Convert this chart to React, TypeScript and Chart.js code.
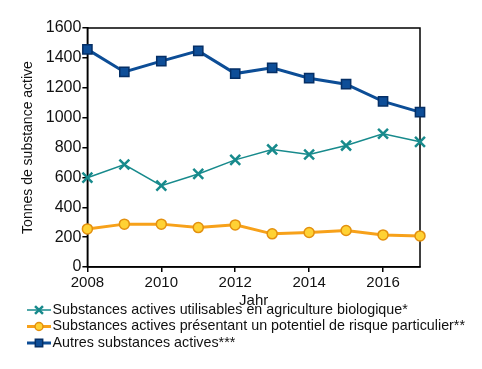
import React, { useEffect, useRef } from 'react';
import { Chart, registerables } from 'chart.js';

Chart.register(...registerables);

const years = [2008, 2009, 2010, 2011, 2012, 2013, 2014, 2015, 2016, 2017];
const bioValues = [598, 686, 545, 623, 717, 787, 753, 813, 892, 838];
const riskValues = [255, 287, 287, 264, 282, 222, 231, 244, 215, 208];
const otherValues = [1457, 1306, 1378, 1447, 1295, 1333, 1264, 1224, 1109, 1037];
const seriesLabels = [
  'Substances actives utilisables en agriculture biologique*',
  'Substances actives présentant un potentiel de risque particulier**',
  'Autres substances actives***',
];
const xTitle = 'Jahr';
const yTitle = 'Tonnes de substance active';

const FONT = '"Liberation Sans", Arial, sans-serif';

const framePlugin = {
  id: 'frame',
  beforeDatasetsDraw(chart: any) {
    const { ctx, chartArea } = chart;
    ctx.save();
    ctx.strokeStyle = '#000';
    ctx.lineWidth = 1.5;
    ctx.strokeRect(chartArea.left, chartArea.top, chartArea.right - chartArea.left, chartArea.bottom - chartArea.top);
    ctx.restore();
  },
};

function drawMarker(ctx: CanvasRenderingContext2D, style: string, x: number, y: number, ds: any) {
  ctx.save();
  ctx.fillStyle = ds.pointBackgroundColor;
  ctx.strokeStyle = ds.pointBorderColor;
  ctx.lineWidth = ds.pointBorderWidth;
  const r = ds.pointRadius;
  ctx.beginPath();
  if (style === 'circle') {
    ctx.arc(x, y, r, 0, Math.PI * 2);
    ctx.fill();
    ctx.stroke();
  } else if (style === 'rect') {
    const s = Math.SQRT1_2 * r;
    ctx.rect(x - s, y - s, 2 * s, 2 * s);
    ctx.fill();
    ctx.stroke();
  } else {
    const o = Math.cos(Math.PI / 4) * r;
    ctx.moveTo(x - o, y - o);
    ctx.lineTo(x + o, y + o);
    ctx.moveTo(x + o, y - o);
    ctx.lineTo(x - o, y + o);
    ctx.stroke();
  }
  ctx.restore();
}

const legendPlugin = {
  id: 'lineLegend',
  afterDraw(chart: any) {
    const { ctx } = chart;
    const left = 27;
    const top = 310;
    const rowH = 16.5;
    ctx.save();
    ctx.font = `14.3px ${FONT}`;
    ctx.textBaseline = 'middle';
    ctx.textAlign = 'left';
    chart.data.datasets.forEach((ds: any, i: number) => {
      const y = top + i * rowH;
      ctx.strokeStyle = ds.borderColor;
      ctx.lineWidth = ds.borderWidth;
      ctx.beginPath();
      ctx.moveTo(left, y);
      ctx.lineTo(left + 24, y);
      ctx.stroke();
      drawMarker(ctx, ds.pointStyle, left + 12, y, { ...ds, pointRadius: ds.pointRadius * 0.8 });
      ctx.fillStyle = '#111';
      ctx.fillText(ds.label, left + 25.5, y);
    });
    ctx.restore();
  },
};

export default function App() {
  const ref = useRef<HTMLCanvasElement | null>(null);
  useEffect(() => {
    document.body.style.margin = '0';
    const toPts = (vals: number[]) => vals.map((v, i) => ({ x: years[i], y: v }));
    const chart = new Chart(ref.current as HTMLCanvasElement, {
      type: 'line',
      data: {
        datasets: [
          {
            label: seriesLabels[0],
            data: toPts(bioValues),
            borderColor: '#178A8C',
            borderWidth: 1.5,
            pointStyle: 'crossRot',
            pointRadius: 7,
            pointBorderWidth: 2.5,
            pointBackgroundColor: '#178A8C',
            pointBorderColor: '#178A8C',
            clip: false,
          } as any,
          {
            label: seriesLabels[1],
            data: toPts(riskValues),
            borderColor: '#F7A11A',
            borderWidth: 3,
            pointStyle: 'circle',
            pointRadius: 5,
            pointBorderWidth: 1.5,
            pointBackgroundColor: '#FFD234',
            pointBorderColor: '#E3900E',
            clip: false,
          } as any,
          {
            label: seriesLabels[2],
            data: toPts(otherValues),
            borderColor: '#0C4D96',
            borderWidth: 3,
            pointStyle: 'rect',
            pointRadius: 6.5,
            pointBorderWidth: 1.5,
            pointBackgroundColor: '#0E4E98',
            pointBorderColor: '#052F66',
            clip: false,
          } as any,
        ],
      },
      options: {
        animation: false,
        responsive: false,
        maintainAspectRatio: false,
        layout: { padding: { left: 20, right: 62, top: 28, bottom: 59 } },
        plugins: {
          legend: { display: false },
          tooltip: { enabled: false },
        },
        scales: {
          x: {
            type: 'linear',
            min: years[0],
            max: years[years.length - 1],
            grid: { drawOnChartArea: false, tickLength: 5, color: '#000', lineWidth: 1.5 },
            border: { display: true, color: '#000', width: 1.5 },
            ticks: {
              stepSize: 2,
              includeBounds: false,
              padding: 2,
              color: '#111',
              font: { family: FONT, size: 15 },
              callback: (v: any) => String(v),
            },
            title: {
              display: true,
              text: xTitle,
              color: '#111',
              font: { family: FONT, size: 15 },
              padding: { top: -2, bottom: 0 },
            },
          },
          y: {
            min: 0,
            max: 1600,
            grid: { drawOnChartArea: false, tickLength: 5, color: '#000', lineWidth: 1.5 },
            border: { display: true, color: '#000', width: 1.5 },
            ticks: {
              stepSize: 200,
              padding: 1,
              color: '#111',
              font: { family: FONT, size: 16 },
              callback: (v: any) => String(v),
            },
            title: {
              display: true,
              text: yTitle,
              color: '#111',
              font: { family: FONT, size: 14 },
              padding: { top: 0, bottom: 8 },
            },
          },
        },
      },
      plugins: [framePlugin, legendPlugin],
    });
    return () => chart.destroy();
  }, []);
  return (
    <div style={{ width: 482, height: 369, background: '#fff' }}>
      <canvas ref={ref} width={482} height={369} style={{ display: 'block' }} />
    </div>
  );
}
